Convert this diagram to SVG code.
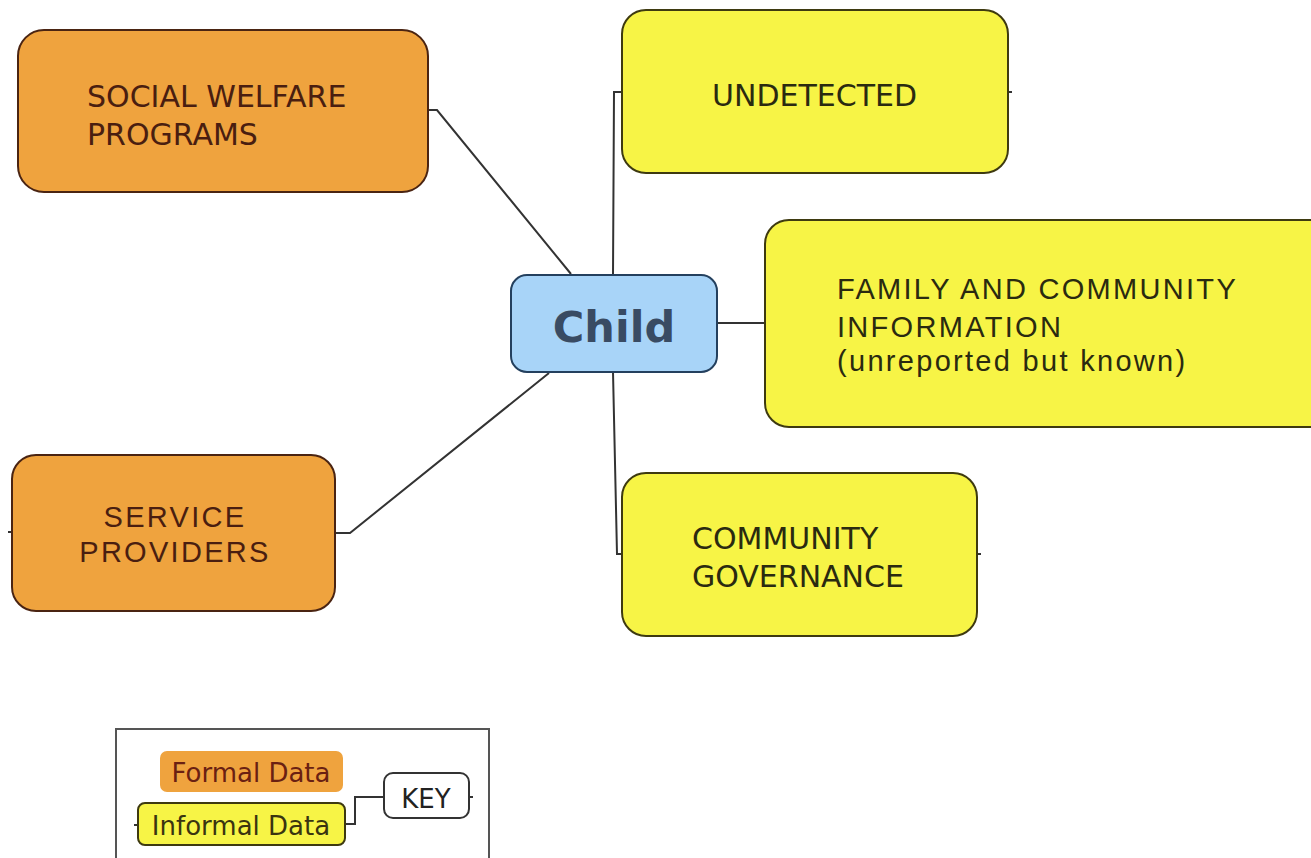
<svg xmlns="http://www.w3.org/2000/svg" width="1311" height="858" viewBox="0 0 1311 858">
<style>
.formal{fill:#EFA33E;stroke:#4a2412;stroke-width:2}
.informal{fill:#F7F446;stroke:#3e3a10;stroke-width:2}
.child{fill:#A8D4F8;stroke:#24405e;stroke-width:2}
.lu{font-family:"DejaVu Sans",sans-serif;font-size:30px}
.ar{font-family:"Liberation Sans",Arial,sans-serif;font-size:29px;letter-spacing:2.3px}
.tf{fill:#4a1e10}
.ti{fill:#2a2a10}
.conn{fill:none;stroke:#333;stroke-width:2}
</style>
<rect width="1311" height="858" fill="#ffffff"/>
<g id="legend-frame">
<rect x="116" y="729" width="373" height="140" fill="#ffffff" stroke="#555" stroke-width="2"/>
</g>
<g id="connectors">
<polyline class="conn" points="428,110 437,110 571,274"/>
<polyline class="conn" points="613,274 614,92 622,92"/>
<line class="conn" x1="1008" y1="92" x2="1012" y2="92"/>
<line class="conn" x1="718" y1="323" x2="765" y2="323"/>
<polyline class="conn" points="613,372 617,554 622,554"/>
<line class="conn" x1="977" y1="554" x2="981" y2="554"/>
<polyline class="conn" points="549,373 350,533 335,533"/>
<line class="conn" x1="12" y1="532" x2="8" y2="532"/>
<polyline class="conn" points="345,824 355,824 355,797 384,797"/>
<line class="conn" x1="469" y1="797" x2="473" y2="797"/>
<line class="conn" x1="138" y1="825" x2="134" y2="825"/>
</g>
<g id="social-welfare">
<rect class="formal" x="18" y="30" width="410" height="162" rx="26"/>
<text class="lu tf" x="87" y="107">SOCIAL WELFARE</text>
<text class="lu tf" x="87" y="145">PROGRAMS</text>
</g>
<g id="undetected">
<rect class="informal" x="622" y="10" width="386" height="163" rx="24"/>
<text class="lu ti" x="712" y="106">UNDETECTED</text>
</g>
<g id="child">
<rect class="child" x="511" y="275" width="206" height="97" rx="16"/>
<text x="614" y="342" text-anchor="middle" font-family="DejaVu Sans,sans-serif" font-weight="bold" font-size="43" fill="#394b63">Child</text>
</g>
<g id="family-community">
<rect class="informal" x="765" y="220" width="570" height="207" rx="24"/>
<text class="ar ti" x="837" y="299">FAMILY AND COMMUNITY</text>
<text class="ar ti" x="837" y="337">INFORMATION</text>
<text class="ar ti" x="837" y="371">(unreported but known)</text>
</g>
<g id="service-providers">
<rect class="formal" x="12" y="455" width="323" height="156" rx="24"/>
<text class="ar tf" x="175" y="527" text-anchor="middle">SERVICE</text>
<text class="ar tf" x="175" y="562" text-anchor="middle">PROVIDERS</text>
</g>
<g id="community-governance">
<rect class="informal" x="622" y="473" width="355" height="163" rx="24"/>
<text class="lu ti" x="692" y="549">COMMUNITY</text>
<text class="lu ti" x="692" y="587">GOVERNANCE</text>
</g>
<g id="legend-formal">
<rect x="160" y="751" width="183" height="41" rx="7" fill="#EFA33E"/>
<text x="251" y="782" text-anchor="middle" font-family="DejaVu Sans,sans-serif" font-size="26" fill="#6a2012">Formal Data</text>
</g>
<g id="legend-informal">
<rect x="138" y="803" width="207" height="42" rx="7" fill="#F7F446" stroke="#3e3a10" stroke-width="2"/>
<text x="241" y="835" text-anchor="middle" font-family="DejaVu Sans,sans-serif" font-size="26" fill="#3a3410">Informal Data</text>
</g>
<g id="legend-key">
<rect x="384" y="773" width="85" height="45" rx="9" fill="#ffffff" stroke="#333" stroke-width="2"/>
<text x="426" y="808" text-anchor="middle" font-family="DejaVu Sans,sans-serif" font-size="26" fill="#222">KEY</text>
</g>
</svg>
